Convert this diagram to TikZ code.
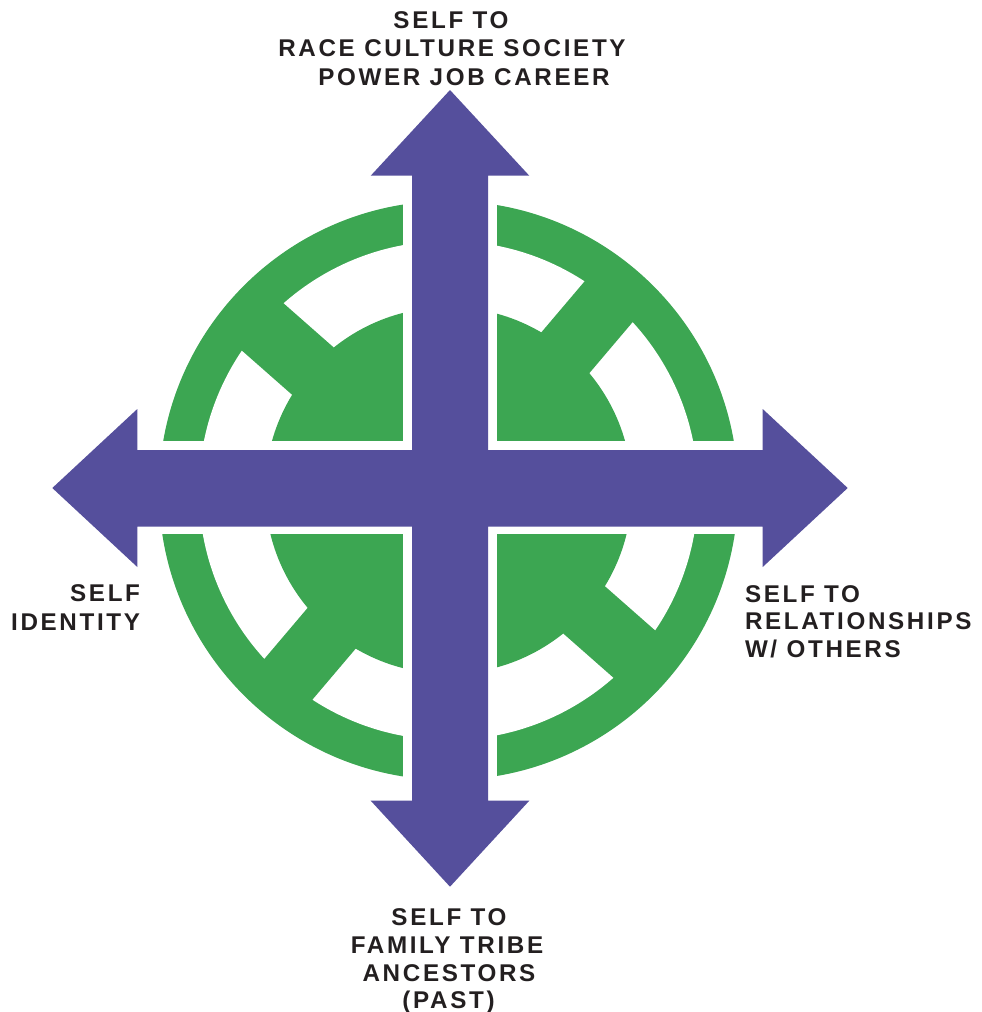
\documentclass[tikz,border=0pt]{standalone}
\usepackage{fontspec}
\setmainfont{Liberation Sans}[LetterSpace=11]
\definecolor{cpurple}{HTML}{554F9C}
\definecolor{cgreen}{HTML}{3CA652}
\definecolor{ctext}{HTML}{231F20}
\begin{document}
\begin{tikzpicture}[x=1pt,y=-1pt,
  lbl/.style={inner sep=0pt, outer sep=0pt, text=ctext, font=\bfseries\fontsize{24.2}{28}\selectfont},
  spoke/.style={cgreen, line width=63pt, line cap=butt}]
\useasboundingbox (0,0) rectangle (982,1012);
% green wheel
\coordinate (wc) at (448.5,490.5);
\fill[cgreen] (wc) circle (289.5pt);
\fill[white] (wc) circle (249.5pt);
\draw[spoke] (620,288.3) -- (277,692.7);
\draw[spoke] (249.5,315.3) -- (647.5,665.7);
\fill[cgreen] (wc) circle (183.3pt);
% white gaps around the cross
\fill[white] (403,140) rectangle (497,840);
\fill[white] (110,441) rectangle (790,534);
% purple double cross arrow
\fill[cpurple] (450,90) -- (529.3,175.7) -- (488,175.7) -- (488,450) -- (762.7,450)
  -- (762.7,409) -- (847.7,488) -- (762.7,567) -- (762.7,526.5) -- (488,526.5)
  -- (488,800.7) -- (529.3,800.7) -- (450,886.7) -- (370.7,800.7) -- (412,800.7)
  -- (412,526.5) -- (137.3,526.5) -- (137.3,567) -- (52.3,488) -- (137.3,409)
  -- (137.3,450) -- (412,450) -- (412,175.7) -- (370.7,175.7) -- cycle;
% labels
\node[lbl, anchor=base] (t1) at (451,28.3) {SELF TO};
\node[lbl, anchor=base] (t2) at (452,56.5) {RACE CULTURE SOCIETY};
\node[lbl, anchor=base] (t3) at (464,85) {POWER JOB CAREER};
\node[lbl, anchor=base east] (l1) at (140,601.7) {SELF};
\node[lbl, anchor=base east] (l2) at (140,630) {IDENTITY};
\node[lbl, anchor=base west] (r1) at (745,602) {SELF TO};
\node[lbl, anchor=base west] (r2) at (745,629.5) {RELATIONSHIPS};
\node[lbl, anchor=base west] (r3) at (745,657.5) {W/ OTHERS};
\node[lbl, anchor=base] (b1) at (449,925) {SELF TO};
\node[lbl, anchor=base] (b2) at (447,953.3) {FAMILY TRIBE};
\node[lbl, anchor=base] (b3) at (449,981.7) {ANCESTORS};
\node[lbl, anchor=base] (b4) at (448.5,1008.5) {(PAST)};
\end{tikzpicture}
\end{document}
